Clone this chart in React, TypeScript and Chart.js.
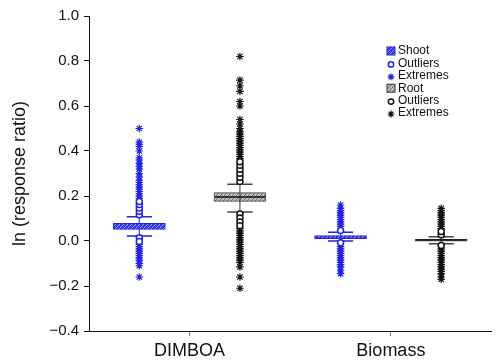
import React, { useEffect, useRef } from 'react';
import { Chart, registerables } from 'chart.js';

Chart.register(...registerables);

// ---------- data ----------
const categories = ['DIMBOA', 'Biomass'];
const yTicks = [-0.4, -0.2, 0.0, 0.2, 0.4, 0.6, 0.8, 1.0];

// box statistics per category (DIMBOA, Biomass)
const shootQ1 = [0.052, 0.010];
const shootMedian = [0.066, 0.017];
const shootQ3 = [0.079, 0.024];
const shootWhiskerLow = [0.022, 0.0];
const shootWhiskerHigh = [0.108, 0.039];

const rootQ1 = [0.176, -0.001];
const rootMedian = [0.196, 0.004];
const rootQ3 = [0.215, 0.009];
const rootWhiskerLow = [0.129, -0.012];
const rootWhiskerHigh = [0.252, 0.019];

const shootOutliersDimboa = [0.117, 0.132, 0.147, 0.162, 0.176, 0.014, -0.002];
const shootExtremesDimboa = [0.19, 0.2, 0.21, 0.22, 0.23, 0.24, 0.25, 0.26, 0.27, 0.285, 0.30, 0.32, 0.33, 0.345, 0.36, 0.37, 0.40, 0.42, 0.43, 0.44, 0.50, -0.015, -0.025, -0.035, -0.045, -0.055, -0.065, -0.075, -0.085, -0.10, -0.11, -0.16];
const shootOutliersBiomass = [0.047, -0.008];
const shootExtremesBiomass = [0.065, 0.075, 0.085, 0.095, 0.105, 0.115, 0.125, 0.135, 0.145, 0.16, -0.025, -0.035, -0.045, -0.055, -0.065, -0.075, -0.085, -0.095, -0.105, -0.115, -0.13, -0.145];

const rootOutliersDimboa = [0.265, 0.283, 0.301, 0.319, 0.337, 0.352, 0.12, 0.102, 0.085, 0.068];
const rootExtremesDimboa = [0.365, 0.375, 0.385, 0.395, 0.405, 0.415, 0.425, 0.435, 0.445, 0.455, 0.465, 0.475, 0.485, 0.50, 0.52, 0.54, 0.60, 0.62, 0.665, 0.69, 0.715, 0.82, 0.055, 0.045, 0.035, 0.025, 0.015, 0.005, -0.005, -0.015, -0.025, -0.035, -0.045, -0.055, -0.065, -0.075, -0.085, -0.095, -0.115, -0.16, -0.21];
const rootOutliersBiomass = [0.028, 0.042, -0.02];
const rootExtremesBiomass = [0.055, 0.065, 0.075, 0.085, 0.095, 0.105, 0.115, 0.125, 0.135, 0.145, -0.035, -0.045, -0.055, -0.065, -0.075, -0.085, -0.095, -0.105, -0.115, -0.125, -0.135, -0.145, -0.16, -0.17];

const legendLabels = ['Shoot', 'Outliers', 'Extremes', 'Root', 'Outliers', 'Extremes'];

// ---------- styles ----------
const BLUE = '#2222e2';
const DARK = '#111111';
const FONT = "'Liberation Sans', Arial, Helvetica, sans-serif";

function makePattern(base: string, fg: string): CanvasPattern | string {
  const c = document.createElement('canvas');
  c.width = 4;
  c.height = 4;
  const g = c.getContext('2d');
  if (!g) return base;
  g.fillStyle = base;
  g.fillRect(0, 0, 4, 4);
  g.fillStyle = fg;
  for (let i = 0; i < 4; i++) g.fillRect(i, 3 - i, 1, 1);
  const p = g.createPattern(c, 'repeat');
  return p || base;
}

const xPos = (cat: number, grp: number) => cat + (grp === 0 ? 0.25 : 0.75);
const pts = (cat: number, grp: number, vals: number[]) => vals.map((v) => ({ x: xPos(cat, grp), y: v }));

function drawStar(ctx: CanvasRenderingContext2D, x: number, y: number, r: number) {
  ctx.beginPath();
  for (let k = 0; k < 4; k++) {
    const a = (k * Math.PI) / 4;
    ctx.moveTo(x - r * Math.cos(a), y - r * Math.sin(a));
    ctx.lineTo(x + r * Math.cos(a), y + r * Math.sin(a));
  }
  ctx.stroke();
}

export default function App() {
  const ref = useRef<HTMLCanvasElement | null>(null);

  useEffect(() => {
    if (!ref.current) return;
    const shootFill = makePattern('#3434e8', '#a4a4f6');
    const rootFill = makePattern('#bdbdbd', '#6a6a6a');

    const stats = [
      { q1: shootQ1, med: shootMedian, q3: shootQ3, lo: shootWhiskerLow, hi: shootWhiskerHigh, color: BLUE, capColor: BLUE, medColor: '#1010c8' },
      { q1: rootQ1, med: rootMedian, q3: rootQ3, lo: rootWhiskerLow, hi: rootWhiskerHigh, color: '#333333', capColor: '#444444', medColor: '#111111' },
    ];

    const whiskerPlugin = {
      id: 'whiskers',
      afterDatasetDraw(chart: any, args: any) {
        if (args.index !== 1) return;
        const ctx = chart.ctx;
        const xs = chart.scales.x;
        const ys = chart.scales.y;
        ctx.save();
        stats.forEach((s, grp) => {
          categories.forEach((_, cat) => {
            const xc = xs.getPixelForValue(xPos(cat, grp));
            const capL = xs.getPixelForValue(xPos(cat, grp) - 0.0625);
            const capR = xs.getPixelForValue(xPos(cat, grp) + 0.0625);
            const boxL = xs.getPixelForValue(xPos(cat, grp) - 0.125);
            const boxR = xs.getPixelForValue(xPos(cat, grp) + 0.125);
            const yLo = ys.getPixelForValue(s.lo[cat]);
            const yHi = ys.getPixelForValue(s.hi[cat]);
            const yMed = ys.getPixelForValue(s.med[cat]);
            ctx.strokeStyle = s.color;
            ctx.lineWidth = 1;
            ctx.beginPath();
            ctx.moveTo(xc, yLo);
            ctx.lineTo(xc, yHi);
            ctx.stroke();
            ctx.strokeStyle = s.capColor;
            ctx.lineWidth = 1.5;
            ctx.beginPath();
            ctx.moveTo(capL, yLo);
            ctx.lineTo(capR, yLo);
            ctx.moveTo(capL, yHi);
            ctx.lineTo(capR, yHi);
            ctx.stroke();
            ctx.strokeStyle = s.medColor;
            ctx.lineWidth = 1.5;
            ctx.beginPath();
            ctx.moveTo(boxL, yMed);
            ctx.lineTo(boxR, yMed);
            ctx.stroke();
          });
        });
        ctx.restore();
      },
    };

    const legendPlugin = {
      id: 'customLegend',
      afterDraw(chart: any) {
        const ctx = chart.ctx;
        ctx.save();
        const x0 = 391;
        const y0 = 51;
        const dy = 12.4;
        ctx.font = `12px ${FONT}`;
        ctx.textBaseline = 'middle';
        ctx.textAlign = 'left';
        legendLabels.forEach((label, i) => {
          const y = y0 + i * dy;
          const isShoot = i < 3;
          const col = isShoot ? BLUE : DARK;
          const kind = i % 3;
          if (kind === 0) {
            ctx.fillStyle = isShoot ? shootFill : rootFill;
            ctx.fillRect(x0 - 4, y - 4, 8, 8);
            ctx.strokeStyle = isShoot ? BLUE : '#333';
            ctx.lineWidth = 1;
            ctx.strokeRect(x0 - 4, y - 4, 8, 8);
          } else if (kind === 1) {
            ctx.strokeStyle = col;
            ctx.lineWidth = 1.5;
            ctx.beginPath();
            ctx.arc(x0, y + 1, 2.7, 0, Math.PI * 2);
            ctx.stroke();
          } else {
            ctx.strokeStyle = col;
            ctx.lineWidth = 1.2;
            drawStar(ctx, x0, y + 1, 3.4);
          }
          ctx.fillStyle = '#111';
          ctx.fillText(label, x0 + 7, y);
        });
        ctx.restore();
      },
    };

    const chart = new Chart(ref.current, {
      type: 'bar',
      data: {
        datasets: [
          {
            type: 'bar',
            label: 'Shoot',
            data: categories.map((_, cat) => ({ x: xPos(cat, 0), y: [shootQ1[cat], shootQ3[cat]] })) as any,
            backgroundColor: shootFill as any,
            borderColor: BLUE,
            borderWidth: 1,
            borderSkipped: false,
            barThickness: 52,
            grouped: false,
            order: 3,
          },
          {
            type: 'bar',
            label: 'Root',
            data: categories.map((_, cat) => ({ x: xPos(cat, 1), y: [rootQ1[cat], rootQ3[cat]] })) as any,
            backgroundColor: rootFill as any,
            borderColor: '#444',
            borderWidth: 1,
            borderSkipped: false,
            barThickness: 52,
            grouped: false,
            order: 3,
          },
          {
            type: 'scatter',
            label: 'Extremes',
            data: [...pts(0, 0, shootExtremesDimboa), ...pts(1, 0, shootExtremesBiomass)],
            pointStyle: 'star',
            pointRadius: 3.8,
            pointBorderWidth: 1.2,
            pointBorderColor: BLUE,
            pointBackgroundColor: BLUE,
            order: 2,
          } as any,
          {
            type: 'scatter',
            label: 'Extremes',
            data: [...pts(0, 1, rootExtremesDimboa), ...pts(1, 1, rootExtremesBiomass)],
            pointStyle: 'star',
            pointRadius: 3.8,
            pointBorderWidth: 1.2,
            pointBorderColor: DARK,
            pointBackgroundColor: DARK,
            order: 2,
          } as any,
          {
            type: 'scatter',
            label: 'Outliers',
            data: [...pts(0, 0, shootOutliersDimboa), ...pts(1, 0, shootOutliersBiomass)],
            pointStyle: 'circle',
            pointRadius: 3,
            pointBorderWidth: 1.5,
            pointBorderColor: BLUE,
            pointBackgroundColor: '#ffffff',
            order: 1,
          } as any,
          {
            type: 'scatter',
            label: 'Outliers',
            data: [...pts(0, 1, rootOutliersDimboa), ...pts(1, 1, rootOutliersBiomass)],
            pointStyle: 'circle',
            pointRadius: 3,
            pointBorderWidth: 1.5,
            pointBorderColor: DARK,
            pointBackgroundColor: '#ffffff',
            order: 1,
          } as any,
        ],
      },
      options: {
        animation: false,
        responsive: true,
        maintainAspectRatio: false,
        layout: { padding: { top: 16, right: 0, bottom: 0, left: 0 } },
        plugins: { legend: { display: false }, tooltip: { enabled: false } },
        scales: {
          x: {
            type: 'linear',
            min: 0,
            max: 2,
            offset: false,
            afterFit: (s: any) => {
              s.height = 30;
            },
            afterBuildTicks: (s: any) => {
              s.ticks = categories.map((_, i) => ({ value: i + 0.5 }));
            },
            ticks: {
              autoSkip: false,
              maxRotation: 0,
              padding: 4,
              color: '#111',
              font: { family: FONT, size: 18 },
              callback: (v: any) => categories[Math.floor(Number(v))] ?? '',
            },
            grid: { offset: false, drawOnChartArea: false, drawTicks: true, tickLength: 5, color: '#777', tickWidth: 1 },
            border: { display: true, color: '#111', width: 1 },
          },
          y: {
            type: 'linear',
            min: -0.4,
            max: 1.0,
            afterFit: (s: any) => {
              s.width = 89;
            },
            afterBuildTicks: (s: any) => {
              s.ticks = yTicks.map((v) => ({ value: v }));
            },
            ticks: {
              padding: 5,
              color: '#111',
              font: { family: FONT, size: 15 },
              callback: (v: any) => {
                const r = Math.round(Number(v) * 10) / 10;
                return (r < 0 ? '\u2212' : '') + Math.abs(r).toFixed(1);
              },
            },
            title: {
              display: true,
              text: 'ln (response ratio)',
              color: '#111',
              font: { family: FONT, size: 18 },
              padding: { top: 9, bottom: 0 },
            },
            grid: { drawOnChartArea: false, drawTicks: true, tickLength: 5, color: '#111', tickWidth: 1 },
            border: { display: true, color: '#111', width: 1 },
          },
        },
      } as any,
      plugins: [whiskerPlugin, legendPlugin],
    });
    return () => chart.destroy();
  }, []);

  return (
    <div style={{ position: 'fixed', left: 0, top: 0, width: 497, height: 361, background: '#fff' }}>
      <canvas ref={ref} />
    </div>
  );
}
